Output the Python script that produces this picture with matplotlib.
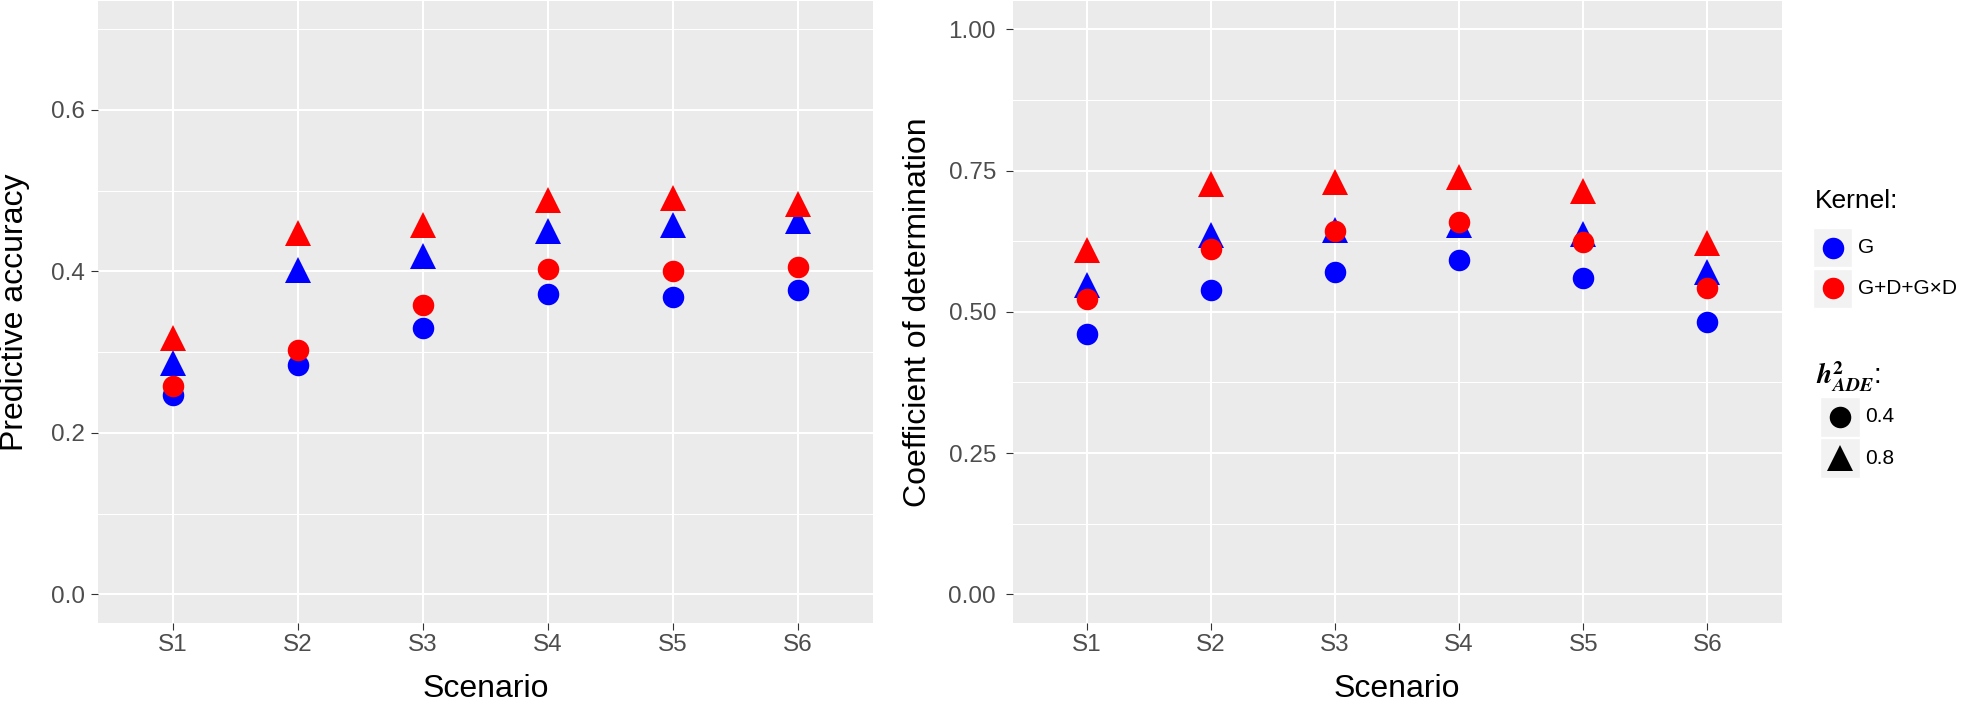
import matplotlib
matplotlib.use('Agg')
import matplotlib.pyplot as plt
from matplotlib.lines import Line2D
from matplotlib.patches import Rectangle

plt.rcParams['font.family'] = ['Liberation Sans', 'DejaVu Sans']
plt.rcParams['mathtext.fontset'] = 'stix'

# ---------------- data ----------------
scenarios = ['S1', 'S2', 'S3', 'S4', 'S5', 'S6']

acc_G_04 = [0.247, 0.284, 0.330, 0.372, 0.369, 0.377]
acc_G_08 = [0.287, 0.402, 0.419, 0.450, 0.457, 0.463]
acc_GD_04 = [0.258, 0.303, 0.359, 0.403, 0.401, 0.406]
acc_GD_08 = [0.318, 0.448, 0.457, 0.489, 0.491, 0.483]

r2_G_04 = [0.461, 0.539, 0.570, 0.592, 0.560, 0.482]
r2_G_08 = [0.548, 0.636, 0.644, 0.653, 0.637, 0.570]
r2_GD_04 = [0.523, 0.611, 0.643, 0.659, 0.623, 0.542]
r2_GD_08 = [0.609, 0.727, 0.729, 0.739, 0.713, 0.621]

kernel_labels = ['G', 'G+D+G×D']
h2_labels = ['0.4', '0.8']

left_ticks = [0.0, 0.2, 0.4, 0.6]
left_ticklabels = ['0.0', '0.2', '0.4', '0.6']
right_ticks = [0.0, 0.25, 0.5, 0.75, 1.0]
right_ticklabels = ['0.00', '0.25', '0.50', '0.75', '1.00']

# ---------------- style ----------------
BLUE = '#0000FF'
RED = '#FF0000'
PANEL = '#EBEBEB'
TICKCOL = '#333333'
LABCOL = '#4D4D4D'
CIRC_MS = 15.5
TRI_MS = 19

W, H = 1961, 702
fig = plt.figure(figsize=(W / 100, H / 100), dpi=100)


def fx(px):
    return px / W


def fy(py):
    return 1 - py / H


ax1 = fig.add_axes([fx(97.7), fy(622.7), (873 - 97.7) / W, (622.7 - 1) / H])
ax2 = fig.add_axes([fx(1012.7), fy(622.7), (1781.7 - 1012.7) / W, (622.7 - 1) / H])

xpos = list(range(1, len(scenarios) + 1))


def style_axes(ax, ticks, ticklabels, minors, ylim, ypad):
    ax.set_facecolor(PANEL)
    for s in ax.spines.values():
        s.set_visible(False)
    ax.set_xlim(0.4, 6.6)
    ax.set_ylim(*ylim)
    ax.set_xticks(xpos)
    ax.set_xticklabels(scenarios)
    ax.set_yticks(ticks)
    ax.set_yticklabels(ticklabels)
    ax.set_yticks(minors, minor=True)
    ax.grid(which='major', color='white', linewidth=1.5)
    ax.grid(which='minor', axis='y', color='white', linewidth=0.75)
    ax.set_axisbelow(True)
    ax.tick_params(which='major', length=5, width=0.8, color=TICKCOL,
                   labelcolor=LABCOL, labelsize=17.5)
    ax.tick_params(axis='x', pad=3.4)
    ax.tick_params(axis='y', pad=ypad)
    ax.tick_params(which='minor', length=0)


style_axes(ax1, left_ticks, left_ticklabels, [0.1, 0.3, 0.5, 0.7],
           (-0.035, 0.735), 4.1)
style_axes(ax2, right_ticks, right_ticklabels, [0.125, 0.375, 0.625, 0.875],
           (-0.05, 1.05), 7.0)


def draw_points(ax, g04, g08, gd04, gd08):
    ax.plot(xpos, g04, ls='none', marker='o', ms=CIRC_MS, color=BLUE, mew=0, zorder=3)
    ax.plot(xpos, g08, ls='none', marker='^', ms=TRI_MS, color=BLUE, mew=0, zorder=3)
    ax.plot(xpos, gd04, ls='none', marker='o', ms=CIRC_MS, color=RED, mew=0, zorder=3)
    ax.plot(xpos, gd08, ls='none', marker='^', ms=TRI_MS, color=RED, mew=0, zorder=3)


draw_points(ax1, acc_G_04, acc_G_08, acc_GD_04, acc_GD_08)
draw_points(ax2, r2_G_04, r2_G_08, r2_GD_04, r2_GD_08)

# axis titles
fig.text(fx(15), fy(312), 'Predictive accuracy', rotation=90, ha='center',
         va='center', fontsize=23, color='black')
fig.text(fx(918), fy(312), 'Coefficient of determination', rotation=90,
         ha='center', va='center', fontsize=23, color='black')
fig.text(fx(485.4), fy(697), 'Scenario', ha='center', va='baseline',
         fontsize=23, color='black')
fig.text(fx(1397.2), fy(697), 'Scenario', ha='center', va='baseline',
         fontsize=23, color='black')

# ---------------- legends ----------------
KEYBG = '#F2F2F2'


def key_box(x0, y0, w, h):
    fig.add_artist(Rectangle((fx(x0), fy(y0 + h)), w / W, h / H,
                             transform=fig.transFigure, facecolor=KEYBG,
                             edgecolor='white', linewidth=1))


def key_marker(cx, cy, marker, ms, color):
    fig.add_artist(Line2D([fx(cx)], [fy(cy)], transform=fig.transFigure,
                          marker=marker, ms=ms, color=color, mew=0, ls='none'))


# Kernel legend
fig.text(fx(1815), fy(201), 'Kernel:', ha='left', va='center', fontsize=19,
         color='black')
kern_cols = [BLUE, RED]
kern_y = [228, 269]
for lab, col, y0 in zip(kernel_labels, kern_cols, kern_y):
    key_box(1813, y0, 39, 39)
    key_marker(1832.5, y0 + 19.5, 'o', CIRC_MS, col)
    fig.text(fx(1858), fy(y0 + 19.5), lab, ha='left', va='center',
             fontsize=15, color='black')

# h2 legend
fig.text(fx(1816), fy(377), r'$\mathbfit{h}^{\mathbf{2}}_{\mathbfit{ADE}}$:',
         ha='left', va='center', fontsize=20, color='black')
shape_markers = ['o', '^']
shape_ms = [CIRC_MS, TRI_MS]
shape_y = [397, 438]
for lab, mk, ms, y0 in zip(h2_labels, shape_markers, shape_ms, shape_y):
    key_box(1820, y0, 40, 40)
    key_marker(1840, y0 + 20, mk, ms, 'black')
    fig.text(fx(1865), fy(y0 + 20), lab, ha='left', va='center',
             fontsize=15, color='black')

fig.savefig('out.png', dpi=100)
